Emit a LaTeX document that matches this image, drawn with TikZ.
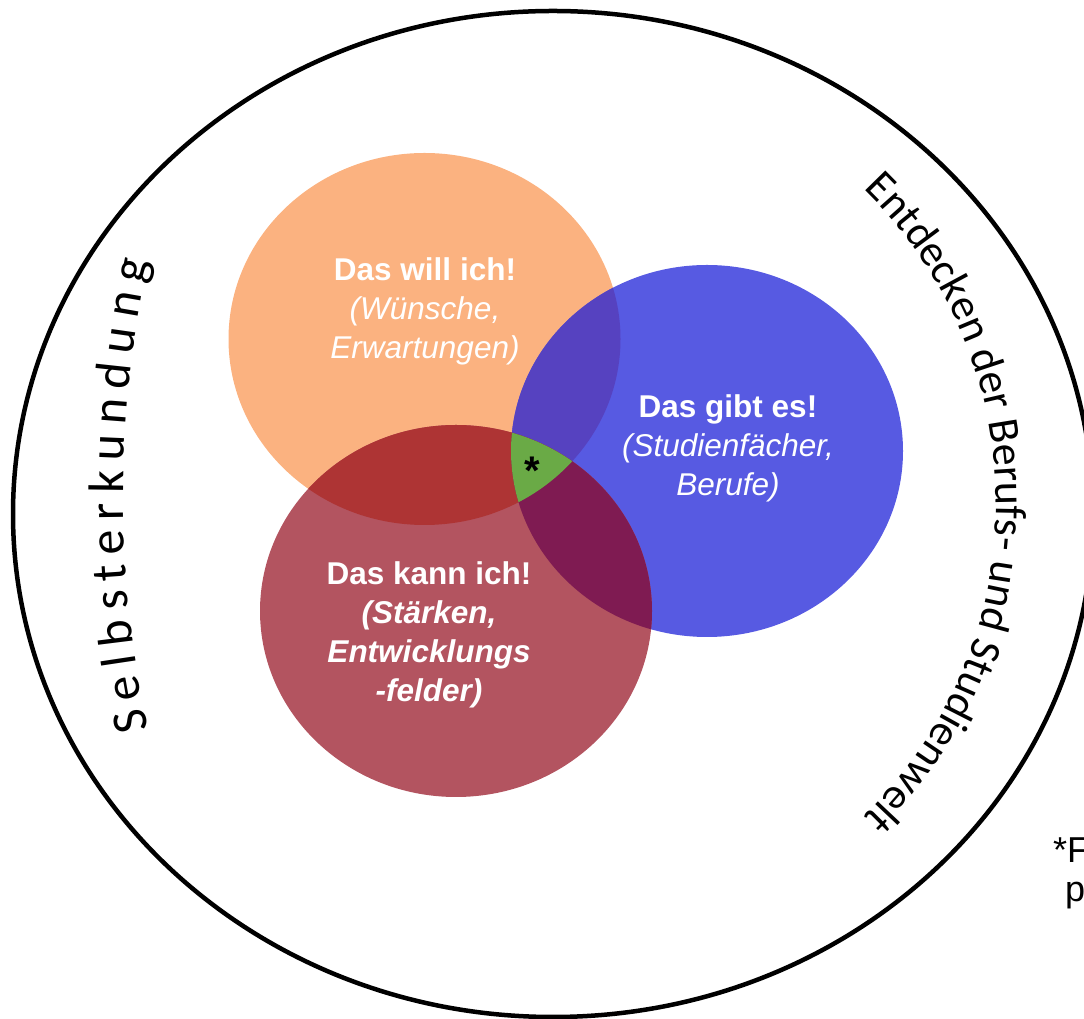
\documentclass[tikz,border=0pt]{standalone}
\usepackage{fontspec}
\setmainfont{Liberation Sans}
\newfontfamily\arcfont{Carlito}
\usetikzlibrary{decorations.text}
\definecolor{cO}{RGB}{251,178,128}
\definecolor{cB}{RGB}{87,90,226}
\definecolor{cR}{RGB}{179,84,96}
\definecolor{cOB}{RGB}{86,66,192}
\definecolor{cOR}{RGB}{174,52,52}
\definecolor{cBR}{RGB}{127,27,82}
\definecolor{cG}{RGB}{106,170,70}
\begin{document}
\begin{tikzpicture}[x=1pt,y=1pt,
  circtext/.style={align=center,text=white,font=\fontsize{31.5}{39}\selectfont}]
\useasboundingbox (0,0) rectangle (1084,1019);
\clip (0,0) rectangle (1084,1019);
% coloured regions
\def\pO{(424.5,680) ellipse [x radius=196, y radius=186]}
\def\pB{(707,568) ellipse [x radius=196, y radius=186]}
\def\pR{(456,408) ellipse [x radius=196, y radius=186]}
\fill[cO] \pO;
\fill[cB] \pB;
\fill[cR] \pR;
\begin{scope}\clip \pO; \fill[cOB] \pB; \end{scope}
\begin{scope}\clip \pO; \fill[cOR] \pR; \end{scope}
\begin{scope}\clip \pB; \fill[cBR] \pR; \end{scope}
\begin{scope}\clip \pO; \clip \pB; \fill[cG] \pR; \end{scope}
% outer ellipse
\draw[line width=4.5pt] (553,505) ellipse [x radius=540, y radius=503];
% texts in circles
\node[circtext] (will) at (425,708) {\textbf{Das will ich!}\\\textit{(Wünsche,}\\\textit{Erwartungen)}};
\node[circtext] (gibt) at (728,571) {\textbf{Das gibt es!}\\\textit{(Studienfächer,}\\\textit{Berufe)}};
\node[circtext] (kann) at (429,384) {\textbf{Das kann ich!}\\\textbf{\textit{(Stärken,}}\\\textbf{\textit{Entwicklungs}}\\\textbf{\textit{-felder)}}};
\node[font=\fontsize{40}{40}\selectfont\bfseries] (star) at (532,548) {*};
% arc texts
\path[decorate,decoration={text along path,
  text={|\arcfont\fontsize{50}{56}\selectfont|Selbsterkundung},
  text align={fit to path}}]
  ([shift={(192.28:1100)}]1223,523) arc[start angle=192.28, end angle=167.72, radius=1100];
\path[decorate,decoration={text along path,
  text={|\arcfont\fontsize{44}{50}\selectfont|Entdecken der Berufs- und Studienwelt},
  text align=center}]
  ([shift={(60:437)}]559,516) arc[start angle=60, end angle=-60, radius=437];
% footnote (cut at the right edge)
\node[anchor=base west,inner sep=0pt,font=\fontsize{36}{40}\selectfont] (fn1) at (1053,156) {*F};
\node[anchor=base west,inner sep=0pt,font=\fontsize{36}{40}\selectfont] (fn2) at (1065,117) {p};
\end{tikzpicture}
\end{document}
